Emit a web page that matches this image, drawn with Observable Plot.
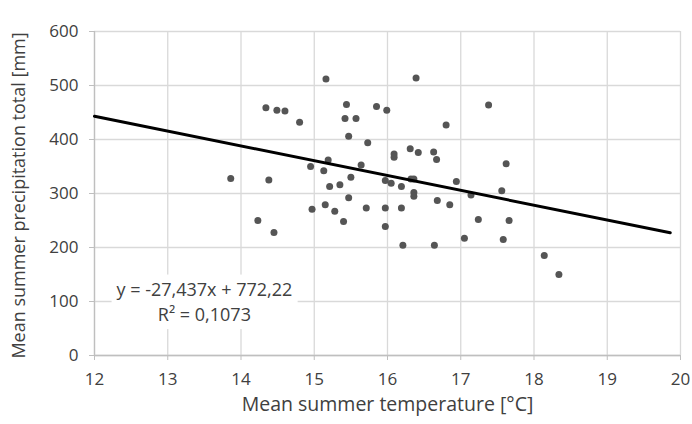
<!DOCTYPE html>
<html>
<head>
<meta charset="utf-8">
<script src="https://cdn.jsdelivr.net/npm/d3@7"></script>
<script src="https://cdn.jsdelivr.net/npm/@observablehq/plot@0.6"></script>
<style>
  html, body { margin: 0; padding: 0; background: #fff; }
  #chart svg { display: block; }
</style>
</head>
<body>
<div id="chart"></div>
<script>
// Observed data: mean summer temperature [°C] vs. precipitation total [mm]
const temperature = [
  15.16, 16.39, 14.34, 14.49, 14.60, 14.80, 15.44, 15.42, 15.57, 15.85,
  15.99, 16.80, 15.47, 15.73, 13.86, 14.38, 14.95, 15.13, 15.19, 15.64,
  15.50, 15.21, 15.35, 15.47, 14.97, 15.15, 15.28, 15.40, 14.23, 14.45,
  15.71, 15.97, 15.97, 16.19, 16.21, 16.64, 15.97, 16.05, 16.19, 16.09,
  16.09, 16.31, 16.42, 16.63, 16.67, 16.32, 16.36, 16.36, 16.36, 16.68,
  16.85, 17.38, 17.62, 16.94, 17.14, 17.56, 17.24, 17.66, 17.05, 17.58,
  18.14, 18.34
];
const precipitation = [
  512, 514, 459, 454, 453, 432, 465, 439, 439, 461,
  454, 427, 406, 394, 328, 325, 350, 342, 362, 353,
  330, 313, 316, 292, 271, 279, 267, 248, 250, 228,
  273, 273, 239, 273, 204, 204, 324, 319, 313, 373,
  367, 383, 376, 377, 363, 327, 327, 302, 295, 287,
  279, 464, 355, 322, 297, 305, 252, 250, 217, 215,
  185, 150
];
// Trend line (linear fit as given on the chart)
const slope = -27.437;
const intercept = 772.22;
const trendX = [12, 19.86];
const equationLines = ["y = -27,437x + 772,22", "R² = 0,1073"];

const xTicks = [12, 13, 14, 15, 16, 17, 18, 19, 20];
const yTicks = [0, 100, 200, 300, 400, 500, 600];
const xLabel = "Mean summer temperature [°C]";
const yLabel = "Mean summer precipitation total [mm]";

const points = temperature.map((t, i) => ({t, p: precipitation[i]}));
const trend = trendX.map(t => ({t, p: slope * t + intercept}));

const textColor = "#404040";
const font = "Open Sans, Liberation Sans, sans-serif";

const chart = Plot.plot({
  width: 692,
  height: 424,
  marginLeft: 94,
  marginRight: 12,
  marginTop: 31,
  marginBottom: 69,
  style: {fontFamily: font, fontSize: "17px", color: textColor, background: "#fff"},
  x: {domain: [12, 20], ticks: xTicks},
  y: {domain: [0, 600], ticks: yTicks},
  marks: [
    Plot.gridX(xTicks, {stroke: "#d9d9d9", strokeOpacity: 1, strokeWidth: 1.3}),
    Plot.gridY(yTicks, {stroke: "#d9d9d9", strokeOpacity: 1, strokeWidth: 1.3}),
    Plot.ruleX([12], {stroke: "#bfbfbf", strokeWidth: 1.3}),
    Plot.ruleY([0], {stroke: "#bfbfbf", strokeWidth: 1.3}),
    Plot.axisX(xTicks, {tickSize: 5, tickPadding: 12, stroke: "#bfbfbf", fill: textColor, fontSize: 17, label: null}),
    Plot.axisY(yTicks, {tickSize: 5, tickPadding: 11, stroke: "#bfbfbf", fill: textColor, fontSize: 17, label: null}),
    Plot.rect([equationLines], {x1: 12.24, x2: 14.78, y1: 48, y2: 149, fill: "#fff"}),
    Plot.text([equationLines.join("\n")], {x: 13.5, y: 101.7, fill: textColor, fontSize: 18, lineHeight: 1.39}),
    Plot.dot(points, {x: "t", y: "p", r: 3.5, fill: "#555555", stroke: "none"}),
    Plot.line(trend, {x: "t", y: "p", stroke: "#000", strokeWidth: 3}),
    Plot.text([xLabel], {frameAnchor: "bottom", textAnchor: "middle", dy: 55, fill: textColor, fontSize: 19.5}),
    Plot.text([yLabel], {frameAnchor: "left", textAnchor: "middle", rotate: -90, dx: -75, dy: 2, fill: textColor, fontSize: 18})
  ]
});
document.getElementById("chart").appendChild(chart);
</script>
</body>
</html>
